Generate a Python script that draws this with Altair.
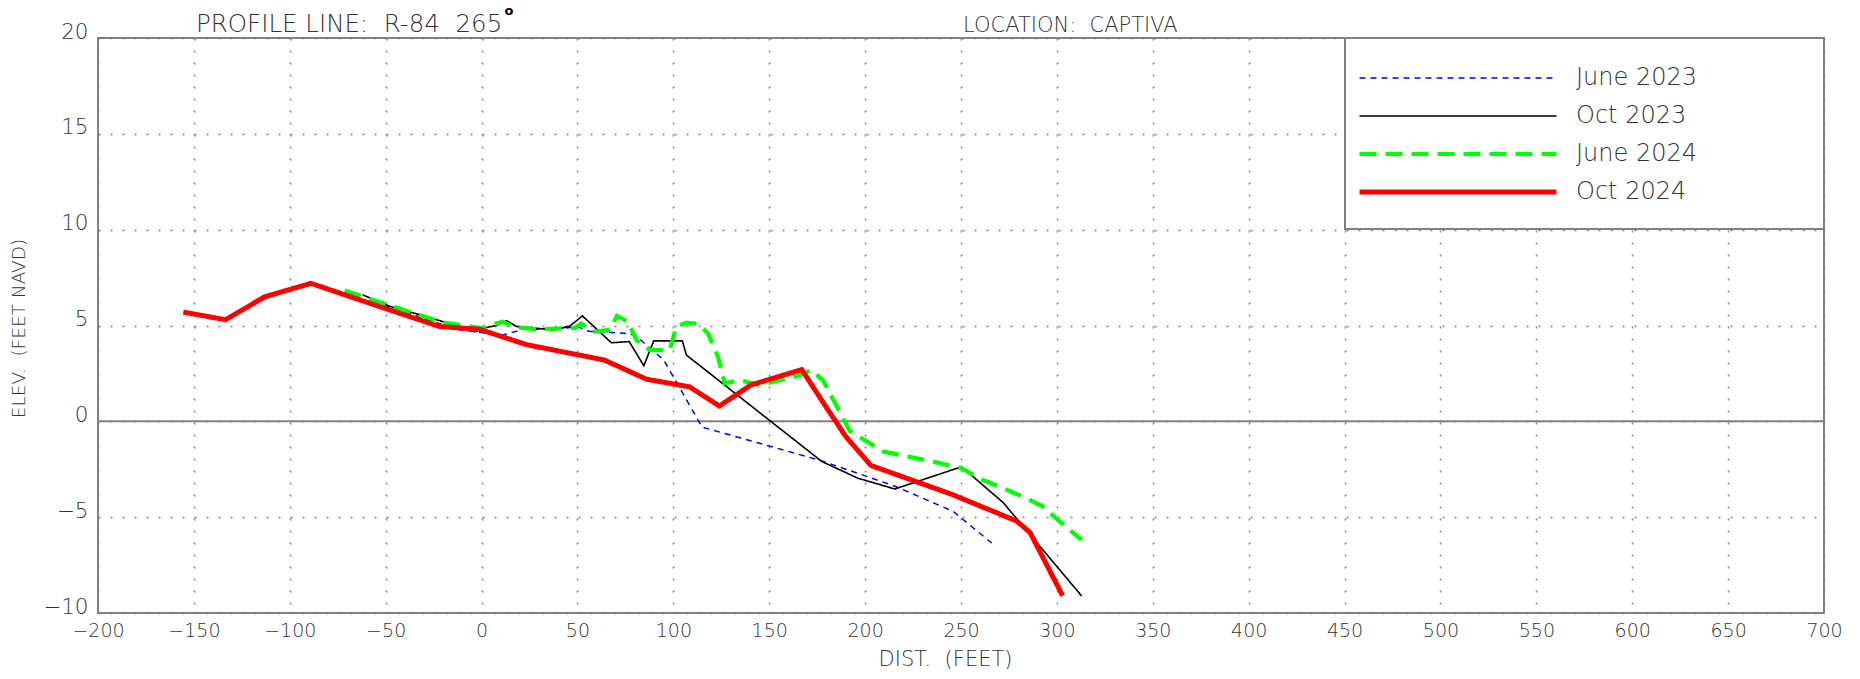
import altair as alt
import pandas as pd

# ---------------- data ----------------
series_names = ["June 2023", "Oct 2023", "June 2024", "Oct 2024"]

june23_x = [-62, -46, -13, 11, 22, 39, 50, 56, 74, 80, 95, 115, 177, 216, 246, 266]
june23_y = [6.3, 5.9, 4.8, 4.5, 4.8, 4.8, 4.95, 4.7, 4.6, 4.5, 3.2, -0.3, -2.05, -3.4, -4.7, -6.35]

oct23_x = [-62, -48, -32, -16, -3.6, 0.8, 7.7, 13, 18.2, 38, 46, 52.6, 67.7, 77, 84.6, 89.8,
           104.7, 106.8, 177.5, 196.3, 215.5, 250.3, 272, 312.9]
oct23_y = [6.6, 6.0, 5.55, 5.08, 4.68, 4.86, 5.0, 5.25, 4.95, 4.77, 4.97, 5.5, 4.1, 4.16, 2.9, 4.2,
           4.2, 3.46, -2.1, -2.97, -3.53, -2.37, -4.24, -9.11]

june24_x = [-71.4, -20, 0, 7.7, 11.2, 16.4, 28.6, 48.6, 52, 58.1, 66.8, 70.6, 76.4, 80.8, 87.7, 98.1,
            101.6, 106.8, 112.9, 118.1, 123.3, 126.8, 134.6, 145, 165.9, 172, 178, 192, 209.4, 235.5,
            250.3, 261.5, 282.4, 292.8, 300.6, 312.9]
june24_y = [6.82, 5.15, 4.87, 5.1, 5.2, 4.94, 4.8, 4.88, 5.1, 4.67, 4.77, 5.5, 5.2, 4.24, 3.72, 3.72,
            4.94, 5.15, 5.08, 4.59, 3.37, 1.98, 2.15, 1.89, 2.41, 2.68, 2.15, -0.5, -1.57, -2.1,
            -2.45, -3.06, -3.93, -4.45, -5.15, -6.19]

oct24_x = [-155.5, -133.5, -113, -89, -55, -22, -1, 23.5, 64, 86, 108.5, 124, 140.5, 167, 178, 190,
           203, 245, 279, 286, 303]
oct24_y = [5.7, 5.3, 6.5, 7.2, 6.05, 4.95, 4.8, 4.0, 3.2, 2.2, 1.8, 0.8, 1.9, 2.7, 1.0, -0.8,
           -2.3, -3.8, -5.2, -5.8, -9.1]

x_ticks = list(range(-200, 701, 50))
y_ticks = [-10, -5, 0, 5, 10, 15, 20]

line_colors = ["#0000ff", "#000000", "#00ff00", "#ff0000"]
line_dashes = [[6, 5], [1, 0], [17, 9], [1, 0]]
line_widths = [1.5, 1.6, 4.2, 5]

rows = []
for name, xs_, ys_, w in zip(series_names, [june23_x, oct23_x, june24_x, oct24_x],
                             [june23_y, oct23_y, june24_y, oct24_y], line_widths):
    for i, (xv, yv) in enumerate(zip(xs_, ys_)):
        rows.append({"series": name, "dist": xv, "elev": yv, "idx": i, "w": w})
df = pd.DataFrame(rows)

FONT = "DejaVu Sans"
FW = 200
TEXT = "#333333"
GRAY = "#808080"
W, H = 1726, 575

x_axis = alt.Axis(values=x_ticks, grid=True, gridDash=[2, 10], gridColor=GRAY, gridWidth=1.5,
                  domain=False, ticks=False, labelFont=FONT, labelFontSize=19, labelFontWeight=FW,
                  labelColor=TEXT, labelPadding=8, labelFlush=False, labelOverlap=False,
                  title="DIST.\u00a0 (FEET)", titleFont=FONT, titleFontSize=21, titleFontWeight=FW,
                  titleColor=TEXT, titleX=847, titleY=46, titleAlign="center", titleBaseline="middle")
y_axis = alt.Axis(values=y_ticks, grid=True, gridDash=[2, 10], gridColor=GRAY, gridWidth=1.5,
                  domain=False, ticks=False, labelFont=FONT, labelFontSize=21.5, labelFontWeight=FW,
                  labelColor=TEXT, labelPadding=10, labelBaseline="alphabetic", labelFlush=False,
                  labelOverlap=False,
                  title="ELEV.\u00a0 (FEET NAVD)", titleFont=FONT, titleFontSize=18.5, titleFontWeight=FW,
                  titleColor=TEXT, titleX=-80, titleY=290, titleAngle=270, titleBaseline="middle")

xs = alt.Scale(domain=[-200, 700], nice=False, zero=False)
ys = alt.Scale(domain=[-10, 20], nice=False, zero=False)

# legend symbol widths follow the same widths as the lines
width_expr = " : ".join(
    f"datum.value == '{n}' ? {w}" for n, w in zip(series_names, line_widths)) + " : 1.5"

LEG_LEFT, LEG_RIGHT, LEG_BOTTOM = 1247, 1726, 191
leg = alt.Legend(title=None, orient="none", legendX=1348, legendY=28,
                 symbolType="M-9.85,0H9.85", symbolSize=400, symbolOffset=0,
                 symbolStrokeWidth=alt.ExprRef(width_expr),
                 labelFont=FONT, labelFontSize=24, labelFontWeight=FW, labelColor=TEXT,
                 labelOffset=106, padding=0, rowPadding=14, labelLimit=600)

zero_df = pd.DataFrame({"z": [0]})
zero_rule = alt.Chart(zero_df).mark_rule(color=GRAY, strokeWidth=2).encode(
    y=alt.Y("z:Q", scale=ys, axis=y_axis))

lines = alt.Chart(df).mark_line(clip=True, strokeCap="butt").encode(
    x=alt.X("dist:Q", scale=xs, axis=x_axis),
    y=alt.Y("elev:Q", scale=ys, axis=y_axis),
    color=alt.Color("series:N", scale=alt.Scale(domain=series_names, range=line_colors), legend=leg),
    strokeDash=alt.StrokeDash("series:N", scale=alt.Scale(domain=series_names, range=line_dashes), legend=leg),
    strokeWidth=alt.StrokeWidth("w:Q", scale=None, legend=None),
    detail="series:N",
    order=alt.Order("idx:Q"),
)

# legend frame
box_df = pd.DataFrame({"b": [1]})
legend_box = alt.Chart(box_df).mark_rect(fill="white", stroke=GRAY, strokeWidth=2).encode(
    x=alt.value(LEG_LEFT), x2=alt.value(LEG_RIGHT), y=alt.value(0), y2=alt.value(LEG_BOTTOM))

title_df = pd.DataFrame({"t": ["PROFILE LINE:\u00a0 R-84\u00a0 265"]})
title1 = alt.Chart(title_df).mark_text(align="left", baseline="alphabetic", font=FONT, fontSize=24.5,
                                       fontWeight=FW, color=TEXT).encode(
    x=alt.value(98), y=alt.value(-6), text="t:N")
deg_df = pd.DataFrame({"t": ["o"]})
deg = alt.Chart(deg_df).mark_text(align="center", baseline="middle", font=FONT, fontSize=13,
                                  fontWeight="bold", color="#000000").encode(
    x=alt.value(411), y=alt.value(-27), text="t:N")
loc_df = pd.DataFrame({"t": ["LOCATION:\u00a0 CAPTIVA"]})
title2 = alt.Chart(loc_df).mark_text(align="left", baseline="alphabetic", font=FONT, fontSize=21,
                                     fontWeight=FW, color=TEXT).encode(
    x=alt.value(865), y=alt.value(-6), text="t:N")

chart = alt.layer(zero_rule, lines, legend_box, title1, deg, title2).properties(
    width=W, height=H,
    autosize=alt.AutoSizeParams(type="none"),
    padding={"left": 98, "top": 38, "right": 36, "bottom": 66},
    background="white",
).configure_view(stroke=GRAY, strokeWidth=2)

chart.save("out.html", embed_options={"renderer": "svg", "actions": False})
